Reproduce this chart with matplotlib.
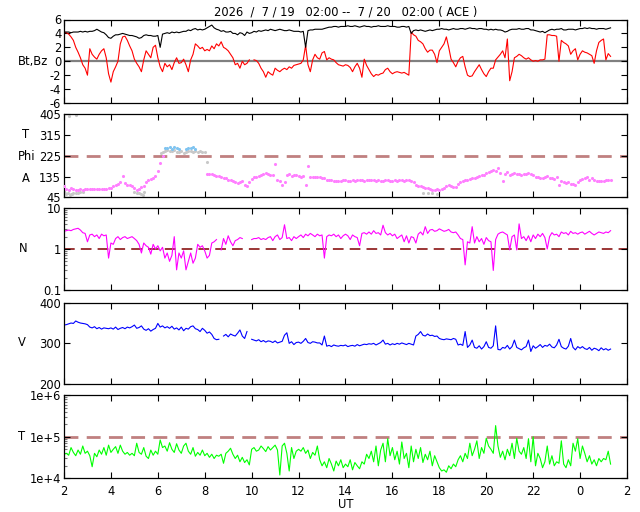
import numpy as np
import matplotlib
matplotlib.use("Agg")
import matplotlib.pyplot as plt

# ---------------- data (hourly rows, 0.1 h steps, starting 02 UT) ----------------
bt_rows = [
    [4.2,4.2,4.2,4.1,4.2,4.2,4.2,4.3,4.2,4.3],
    [4.2,4.3,4.3,4.4,4.6,4.4,4.2,4.1,3.8,3.4],
    [3.3,3.6,3.8,3.8,3.9,4.0,3.9,3.8,3.7,3.7],
    [3.6,3.5,3.3,3.4,3.7,3.8,3.7,3.7,3.6,3.6],
    [3.7,2.0,3.9,4.0,4.1,4.0,4.2,4.1,4.2,4.1],
    [4.2,4.3,4.3,4.5,4.4,4.6,4.7,4.5,4.6,4.5],
    [4.6,4.8,5.0,5.2,4.8,4.6,4.5,4.3,4.4,4.2],
    [4.2,4.3,4.0,4.0,3.8,4.1,4.0,3.7,4.2,4.0],
    [4.1,4.3,4.2,4.4,4.3,4.4,4.5,4.4,4.6,4.5],
    [4.4,4.5,4.6,4.5,4.4,4.4,4.5,4.4,4.3,4.3],
    [4.3,4.2,4.3,2.0,4.4,4.5,4.5,4.6,4.6,4.6],
    [4.6,4.7,4.8,4.9,4.9,5.0,5.0,4.9,5.0,5.0],
    [5.0,5.1,5.0,5.0,5.1,5.0,4.9,5.0,5.1,5.0],
    [5.0,4.9,5.0,5.0,5.1,5.0,5.0,5.0,5.1,5.0],
    [5.0,5.0,4.9,4.9,5.0,5.0,4.9,5.0,4.0,4.4],
    [4.5,4.4,4.5,4.4,4.3,4.4,4.5,4.4,4.5,4.6],
    [4.6,4.7,4.6,4.6,4.5,4.6,4.7,4.6,4.6,4.7],
    [4.7,4.6,4.7,4.8,4.7,4.7,4.6,4.7,4.7,4.6],
    [4.6,4.5,4.6,4.5,4.6,4.5,4.5,4.4,4.2,4.3],
    [4.5,4.6,4.6,4.6,4.7,4.6,4.6,4.7,4.7,4.5],
    [4.5,4.4,4.3,4.2,4.3,4.1,4.3,4.5,4.6,4.5],
    [4.6,4.6,4.7,4.5,4.5,4.6,4.6,4.6,4.5,4.6],
    [4.7,4.7,4.8,4.7,4.8,4.7,4.7,4.6,4.7,4.7],
    [4.7,4.6,4.7,4.8],
]
bz_rows = [
    [4.2,4.1,3.9,3.5,3.0,2.0,1.3,0.5,-0.5,-1.0],
    [-2.0,1.8,1.0,0.6,0.3,1.0,1.5,1.8,0.5,-1.8],
    [-3.0,-1.5,-0.8,0.0,2.5,3.5,3.6,3.0,2.2,1.5],
    [0.3,-0.3,-0.8,-1.5,0.2,1.5,1.0,0.5,2.0,2.3],
    [0.5,-0.8,-1.5,-0.3,-0.8,-0.5,-1.2,-0.2,0.5,-0.3],
    [-0.2,0.3,-0.5,-1.5,0.2,1.0,2.5,2.2,1.8,2.0],
    [1.5,1.7,1.5,2.2,1.8,2.5,2.2,2.8,2.0,1.8],
    [1.5,1.0,0.5,-0.5,-0.3,-1.0,0.0,-0.5,-0.3,0.2],
    [np.nan,0.2,0.1,-0.3,-1.0,-1.5,-2.3,-1.5,-1.8,-2.0],
    [-1.0,-1.3,-1.5,-1.2,-1.0,-1.2,-0.8,-1.0,-0.6,-0.5],
    [-0.4,-0.3,0.2,2.3,-0.5,-1.5,0.2,1.0,0.5,0.3],
    [1.2,1.4,0.2,0.5,0.3,0.2,-0.2,-0.5,-0.6,-0.7],
    [-0.5,-0.6,-0.9,-1.5,-0.8,-0.3,-1.0,-2.3,0.3,-0.6],
    [-1.2,-1.8,-2.2,-1.9,-2.0,-1.8,-1.7,-1.2,-1.0,-1.5],
    [-1.8,-1.6,-1.5,-1.6,-1.7,-1.6,-1.8,-2.0,4.2,3.8],
    [3.6,3.0,2.8,2.5,1.8,1.3,1.6,1.6,1.0,-0.2],
    [1.5,2.0,2.5,3.5,2.0,0.3,-0.2,-0.8,0.0,0.5],
    [0.7,-0.8,-2.0,-2.2,-2.1,-1.5,-1.0,-0.5,-1.2,-1.8],
    [-2.2,-1.5,-1.0,-1.0,0.2,0.6,1.0,1.5,0.5,3.2],
    [-2.8,-1.5,0.5,0.7,1.0,0.8,0.5,0.3,0.5,0.2],
    [0.0,0.1,0.0,0.2,0.2,0.3,3.8,3.8,3.7,3.7],
    [3.6,0.0,3.0,2.7,2.5,2.2,1.0,1.5,1.8,0.2],
    [1.0,1.5,1.3,1.2,1.0,0.8,-0.3,1.5,2.7,3.0],
    [3.2,0.2,1.1,0.7],
]
nan = np.nan
phi_rows = [
    [92,80,75,85,80,78,77,80,78,79],
    [80,80,81,82,80,82,83,82,83,84],
    [85,95,100,103,110,136,105,100,98,96],
    [86,75,80,90,96,110,120,125,130,136],
    [160,195,225,nan,nan,nan,nan,nan,nan,nan],
    [nan,nan,nan,nan,nan,nan,nan,nan,nan,nan],
    [nan,146,145,144,140,138,136,134,130,127],
    [122,118,114,110,107,110,115,100,92,110],
    [126,135,132,138,140,145,150,148,140,143],
    [189,120,114,100,110,140,145,138,143,140],
    [136,135,138,100,179,135,132,134,133,135],
    [130,128,120,122,118,115,116,114,117,118],
    [122,116,114,118,117,121,120,119,117,120],
    [120,118,119,117,118,116,117,118,119,117],
    [116,118,117,119,120,117,118,119,116,112],
    [100,95,92,88,86,87,80,78,77,79],
    [78,82,84,92,100,95,90,88,103,112],
    [115,118,120,125,128,130,135,138,140,142],
    [150,155,160,165,158,170,150,114,145,155],
    [140,145,150,148,146,143,148,145,150,147],
    [140,135,132,130,128,132,136,130,130,126],
    [132,100,115,112,108,110,104,102,100,110],
    [118,125,128,132,120,130,118,116,115,117],
    [116,120,118,120],
]
phi_gray_t = [2.0,2.05,2.1,2.15,2.2,2.25,2.3,2.35,2.4,2.5,2.5,2.6,2.7,2.8,
              5.0,5.1,5.2,5.3,5.35,5.4,
              6.15,6.2,6.3,6.4,6.5,6.6,6.7,6.8,6.9,7.0,7.1,7.2,7.3,7.4,7.5,7.6,7.7,7.8,7.9,8.0,8.1,
              17.3,17.5,17.7,17.9]
phi_gray_v = [72,65,58,62,396,55,60,58,62,401,65,63,66,70,
              70,65,62,58,55,68,
              235,240,245,248,246,244,248,243,240,245,238,243,247,245,242,246,243,245,242,240,200,
              65,62,64,60]
phi_blue_t = [6.3,6.4,6.5,6.6,6.7,6.8,6.9,7.2,7.3,7.4,7.5,7.6]
phi_blue_v = [260,258,262,255,265,258,254,256,260,258,262,255]

n_rows = [
    [2.7,2.8,2.9,2.8,3.0,3.1,3.2,2.9,2.5,2.4],
    [1.5,2.2,2.3,2.0,2.2,1.8,2.3,2.1,2.2,0.6],
    [1.4,1.3,1.8,2.0,1.7,1.9,2.0,1.8,1.9,2.0],
    [1.8,1.6,1.3,0.8,1.4,1.2,1.1,0.75,1.3,1.0],
    [1.2,0.9,1.1,0.6,0.8,0.5,0.7,2.0,0.31,0.8],
    [0.6,0.9,0.31,0.5,0.8,0.45,0.6,1.3,1.1,1.2],
    [0.9,0.6,0.7,1.4,1.5,1.7,nan,0.95,1.8,1.3],
    [2.1,1.5,1.2,1.6,1.7,1.9,1.8,nan,0.75,nan],
    [1.7,1.8,1.8,1.9,1.7,1.8,1.7,1.9,2.0,1.6],
    [2.0,2.2,1.7,1.9,3.9,1.8,1.9,1.6,2.0,1.8],
    [2.0,2.2,1.9,2.3,2.1,2.4,2.2,2.0,2.3,2.1],
    [2.2,0.6,2.0,2.2,2.1,2.3,2.0,2.2,1.8,2.1],
    [2.3,2.1,1.7,2.2,2.0,1.9,1.2,2.4,2.5,2.3],
    [2.6,2.3,2.8,2.4,2.5,2.2,3.8,2.5,2.2,2.4],
    [2.1,2.3,1.8,2.0,2.2,1.5,2.1,1.4,2.0,1.9],
    [1.4,2.3,2.6,2.2,3.5,2.4,2.9,3.0,2.7,2.8],
    [3.1,2.9,2.7,2.8,3.0,2.6,2.5,2.6,2.2,1.8],
    [1.7,0.41,1.5,1.4,3.5,1.4,2.0,1.5,1.8,1.3],
    [1.9,1.6,1.5,0.3,1.7,2.3,2.5,2.6,2.4,2.2],
    [0.95,2.0,2.2,0.95,4.1,1.8,2.0,1.6,2.1,1.5],
    [2.2,1.8,2.3,2.0,2.4,1.9,1.0,2.0,2.5,2.2],
    [2.3,2.0,2.6,2.4,2.5,2.2,2.7,2.4,2.5,2.3],
    [2.5,2.6,2.3,2.5,2.7,2.4,2.2,2.4,2.6,2.5],
    [2.4,2.6,2.5,2.8],
]
v_rows = [
    [345,346,348,350,349,355,352,350,349,348],
    [346,340,338,341,336,339,335,338,337,336],
    [338,335,340,334,337,339,336,340,338,341],
    [345,337,339,343,335,332,336,330,334,337],
    [349,340,343,338,341,337,342,335,338,333],
    [340,331,337,335,341,343,336,334,329,337],
    [332,325,328,322,312,309,310,nan,318,322],
    [316,323,320,318,325,333,318,312,329,nan],
    [310,308,306,309,304,307,303,306,305,302],
    [306,301,303,305,320,326,300,304,297,302],
    [303,300,305,312,302,300,304,303,301,301],
    [296,318,293,295,292,296,294,293,295,294],
    [296,292,294,295,293,297,294,296,298,297],
    [299,298,300,296,299,302,308,298,300,296],
    [299,297,300,298,301,299,297,300,298,296],
    [318,322,329,320,318,323,319,320,317,318],
    [312,310,309,311,310,309,312,310,296,298],
    [295,329,290,296,308,290,288,294,286,292],
    [304,290,288,294,343,285,284,290,288,295],
    [286,292,308,290,287,284,289,292,308,280],
    [294,288,292,297,290,295,293,298,291,289],
    [296,310,292,288,286,293,312,290,284,292],
    [288,292,287,285,290,283,288,286,282,289],
    [284,287,283,286],
]
temp_rows_k = [
    [38,40,36,55,42,35,48,38,60,40],
    [45,35,19,40,33,48,38,55,36,63],
    [42,50,58,40,63,45,38,42,36,40],
    [35,70,42,38,55,34,30,48,36,45],
    [38,84,55,60,45,72,50,42,68,48],
    [40,60,70,45,38,55,34,42,36,48],
    [35,40,32,38,30,36,34,38,23,40],
    [45,53,38,30,36,25,32,24,28,21],
    [50,55,45,48,60,52,44,58,48,55],
    [63,48,12,60,70,40,15,55,30,45],
    [50,45,55,40,48,30,42,36,60,28],
    [20,25,18,30,22,15,26,20,28,18],
    [22,19,28,16,24,20,17,25,22,38],
    [30,45,25,60,20,48,70,25,90,35],
    [55,28,45,22,75,30,40,18,60,25],
    [50,30,55,24,38,28,45,20,35,25],
    [18,15,16,14,20,17,22,19,28,35],
    [25,40,30,70,35,50,80,30,55,40],
    [92,60,50,40,186,60,32,45,28,50],
    [35,70,30,92,45,38,55,30,90,25],
    [100,20,40,30,18,25,60,22,35,20],
    [25,23,80,22,18,28,20,70,45,90],
    [30,60,40,25,35,22,28,20,30,25],
    [30,28,45,22],
]

x_ticks = [2, 4, 6, 8, 10, 12, 14, 16, 18, 20, 22, 24, 26]
x_ticklabels = ["2", "4", "6", "8", "10", "12", "14", "16", "18", "20", "22", "0", "2"]
title = "2026  /  7 / 19   02:00 --  7 / 20   02:00 ( ACE )"


def flatten(rows, start=2.0, step=0.1):
    t, v = [], []
    for r, row in enumerate(rows):
        for i, val in enumerate(row):
            t.append(start + r + step * i)
            v.append(val)
    return np.array(t), np.array(v, dtype=float)


W, H = 640, 512
fig = plt.figure(figsize=(6.4, 5.12), dpi=100)
plt.rcParams["font.family"] = ["DejaVu Sans"]
FS = 8.3

left, right = 64 / W, 627 / W
panels_px = [(19.5, 103), (114.3, 197.3), (208, 290), (302.7, 384), (395.3, 478.3)]
axes = []
for top, bot in panels_px:
    ax = fig.add_axes([left, 1 - bot / H, right - left, (bot - top) / H])
    ax.set_xlim(2, 26)
    ax.set_xticks(x_ticks)
    ax.set_xticklabels([])
    ax.tick_params(axis="both", which="major", direction="in", top=True, right=True,
                   length=4, width=0.8, labelsize=FS, pad=2)
    ax.tick_params(axis="both", which="minor", direction="in", right=False, top=False,
                   length=2.5, width=0.8, color="#777777")
    for s in ax.spines.values():
        s.set_linewidth(0.9)
    axes.append(ax)

# Panel 1: Bt, Bz
ax = axes[0]
t, bt = flatten(bt_rows)
t2, bz = flatten(bz_rows)
ax.axhline(0, color="#808080", lw=1.6, zorder=1)
ax.plot(t2, bz, color="#ff0000", lw=0.8, zorder=2)
ax.plot(t, bt, color="#000000", lw=0.8, zorder=3)
ax.set_ylim(-6, 6)
ax.set_yticks([-6, -4, -2, 0, 2, 4, 6])
ax.set_yticklabels(["-6", "-4", "-2", "0", "2", "4", "6"])

# Panel 2: Phi
ax = axes[1]
ax.axhline(225, color="#c08080", lw=2.0, dashes=(5, 3), zorder=1)
tp, phi = flatten(phi_rows)
ax.scatter(phi_gray_t, phi_gray_v, s=5, color="#c8c8c8", linewidths=0, zorder=2)
ax.scatter(phi_blue_t, phi_blue_v, s=5, color="#80c4f0", linewidths=0, zorder=3)
ax.scatter(tp, phi, s=5, color="#ff80ff", linewidths=0, zorder=3)
ax.set_ylim(45, 405)
ax.set_yticks([45, 135, 225, 315, 405])

# Panel 3: N
ax = axes[2]
tn, n = flatten(n_rows)
ax.set_yscale("log")
ax.axhline(1, color="#800000", lw=1.1, dashes=(7, 4), zorder=1)
ax.plot(tn, n, color="#ff00ff", lw=0.8, zorder=2)
ax.set_ylim(0.1, 10)
ax.set_yticks([0.1, 1, 10])
ax.set_yticklabels(["0.1", "1", "10"])
ax.tick_params(axis="y", which="minor", left=True, right=False, direction="in")

# Panel 4: V
ax = axes[3]
tv, v = flatten(v_rows)
ax.plot(tv, v, color="#0000ff", lw=0.8)
ax.set_ylim(200, 400)
ax.set_yticks([200, 300, 400])

# Panel 5: T
ax = axes[4]
tt, tk = flatten(temp_rows_k)
ax.set_yscale("log")
ax.axhline(1e5, color="#c08080", lw=2.0, dashes=(5, 3), zorder=1)
ax.plot(tt, tk * 1000, color="#00ff00", lw=0.8, zorder=2)
ax.set_ylim(1e4, 1e6)
ax.set_yticks([1e4, 1e5, 1e6])
ax.set_yticklabels(["1e+4", "1e+5", "1e+6"])
ax.tick_params(axis="y", which="minor", left=True, right=False, direction="in")
ax.set_xticklabels(x_ticklabels)
ax.tick_params(axis="x", pad=5)

for a in axes[2:3] + axes[4:5]:
    a.yaxis.set_minor_formatter(matplotlib.ticker.NullFormatter())


def ftext(x, y, s, **kw):
    fig.text(x / W, 1 - y / H, s, fontsize=FS, ha="center", va="center", **kw)


ftext(346, 12, title)
ftext(33, 62, "Bt,Bz")
ftext(26, 135, "T")
ftext(27, 156, "Phi")
ftext(26, 179, "A")
ftext(23, 249, "N")
ftext(22, 343, "V")
ftext(22, 437, "T")
ftext(346, 505, "UT")

fig.savefig("out.png", dpi=100)
